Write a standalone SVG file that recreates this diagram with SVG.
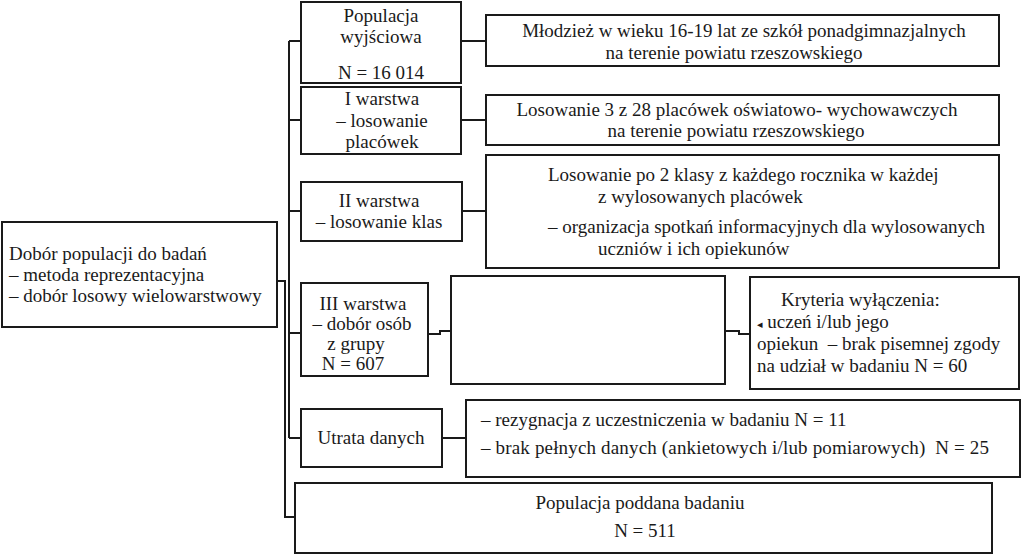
<svg xmlns="http://www.w3.org/2000/svg" width="1024" height="556" viewBox="0 0 1024 556">
<style>
.box{fill:#fff;stroke:#1a1a1a;stroke-width:2}
.ln{fill:none;stroke:#1a1a1a;stroke-width:2}
text{font-family:"Liberation Serif","DejaVu Serif",serif;font-size:19px;fill:#1a1a1a}
.c{text-anchor:middle}
</style>
<rect width="1024" height="556" fill="#fff"/>
<g id="connectors">
<path class="ln" d="M289 41V438"/>
<path class="ln" d="M277 281H285V517H295"/>
<path class="ln" d="M289 41H301M289 120H301M289 211H301M289 333H301M289 438H301"/>
<path class="ln" d="M461 41H486M461 120H486M462 211H486M442 438H466"/>
<path class="ln" d="M428 334H440V331H451"/>
<path class="ln" d="M725 331H739V334H750"/>
</g>
<g id="n-dobor">
<rect class="box" x="2" y="222" width="275" height="105"/>
<text x="9" y="260">Dobór populacji do badań</text>
<text x="9" y="281">– metoda reprezentacyjna</text>
<text x="9" y="302">– dobór losowy wielowarstwowy</text>
</g>
<g id="n-populacja">
<rect class="box" x="301" y="2" width="160" height="81"/>
<text class="c" x="381" y="22">Populacja</text>
<text class="c" x="381" y="43">wyjściowa</text>
<text class="c" x="381" y="79">N = 16 014</text>
</g>
<g id="n-mlodziez">
<rect class="box" x="486" y="15" width="513" height="51"/>
<text class="c" x="744" y="37">Młodzież w wieku 16-19 lat ze szkół ponadgimnazjalnych</text>
<text class="c" x="734" y="59">na terenie powiatu rzeszowskiego</text>
</g>
<g id="n-warstwa1">
<rect class="box" x="301" y="87" width="160" height="67"/>
<text class="c" x="382" y="105">I warstwa</text>
<text class="c" x="382" y="127">– losowanie</text>
<text class="c" x="382" y="148">placówek</text>
</g>
<g id="n-losowanie3">
<rect class="box" x="486" y="95" width="513" height="50"/>
<text class="c" x="737" y="116">Losowanie 3 z 28 placówek oświatowo- wychowawczych</text>
<text class="c" x="736" y="137">na terenie powiatu rzeszowskiego</text>
</g>
<g id="n-warstwa2">
<rect class="box" x="301" y="182" width="161" height="59"/>
<text class="c" x="379" y="207">II warstwa</text>
<text class="c" x="379" y="228">– losowanie klas</text>
</g>
<g id="n-losowanie2">
<rect class="box" x="486" y="155" width="513" height="113"/>
<text x="548" y="181">Losowanie po 2 klasy z każdego rocznika w każdej</text>
<text x="598" y="203">z wylosowanych placówek</text>
<text x="548" y="233">– organizacja spotkań informacyjnych dla wylosowanych</text>
<text x="598" y="255">uczniów i ich opiekunów</text>
</g>
<g id="n-warstwa3">
<rect class="box" x="301" y="283" width="127" height="93"/>
<text class="c" x="363" y="310">III warstwa</text>
<text class="c" x="362" y="330">– dobór osób</text>
<text class="c" x="356" y="350">z grupy</text>
<text class="c" x="353" y="370">N = 607</text>
</g>
<g id="n-pusty">
<rect class="box" x="451" y="276" width="274" height="108"/>
</g>
<g id="n-kryteria">
<rect class="box" x="750" y="277" width="269" height="112"/>
<text x="781" y="306">Kryteria wyłączenia:</text>
<text x="757" y="328"><tspan font-size="11">◂</tspan> uczeń i/lub jego</text>
<text x="757" y="350" xml:space="preserve">opiekun  – brak pisemnej zgody</text>
<text x="757" y="372">na udział w badaniu N = 60</text>
</g>
<g id="n-utrata">
<rect class="box" x="301" y="409" width="141" height="58"/>
<text class="c" x="371" y="444">Utrata danych</text>
</g>
<g id="n-rezygnacja">
<rect class="box" x="466" y="400" width="554" height="77"/>
<text x="481" y="426">– rezygnacja z uczestniczenia w badaniu N = 11</text>
<text x="481" y="454" xml:space="preserve" textLength="508" lengthAdjust="spacing">– brak pełnych danych (ankietowych i/lub pomiarowych)  N = 25</text>
</g>
<g id="n-poddana">
<rect class="box" x="295" y="483" width="697" height="70"/>
<text class="c" x="640" y="509">Populacja poddana badaniu</text>
<text class="c" x="645" y="537">N = 511</text>
</g>
</svg>
